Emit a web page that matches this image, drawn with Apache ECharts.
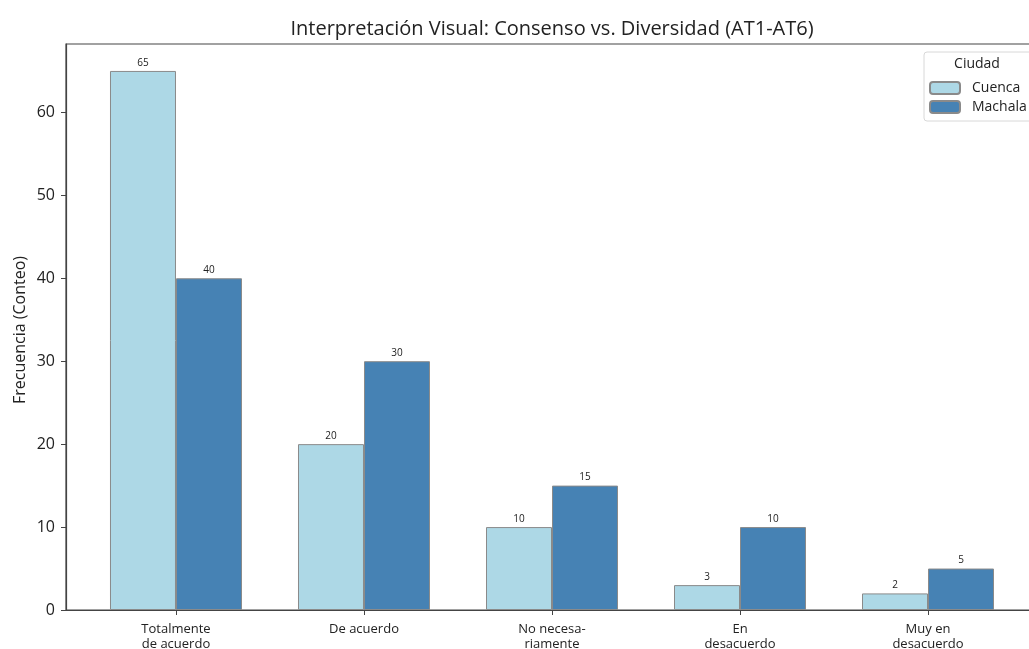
<!DOCTYPE html>
<html>
<head>
<meta charset="utf-8">
<script src="https://cdn.jsdelivr.net/npm/echarts@6/dist/echarts.min.js"></script>
<style>
html,body{margin:0;padding:0;background:#fff;}
#chart{width:1029px;height:649px;}
</style>
</head>
<body>
<div id="chart"></div>
<script>
const categories = ["Totalmente\nde acuerdo", "De acuerdo", "No necesa-\nriamente", "En\ndesacuerdo", "Muy en\ndesacuerdo"];
const cuenca = [65, 20, 10, 3, 2];
const machala = [40, 30, 15, 10, 5];
const yTicks = [0, 10, 20, 30, 40, 50, 60];
const catPositions = [0, 1, 2, 3, 4];

const FONT = "Open Sans";
const chart = echarts.init(document.getElementById('chart'), null, {renderer: 'canvas'});

function toPairs(arr) { return arr.map((v, i) => [catPositions[i], v]); }

const option = {
  backgroundColor: '#ffffff',
  animation: false,
  textStyle: {fontFamily: FONT},
  title: {
    text: 'Interpretación Visual: Consenso vs. Diversidad (AT1-AT6)',
    left: 547, top: 14, textAlign: 'center',
    textStyle: {fontFamily: FONT, fontSize: 20, fontWeight: 'normal', color: '#222'}
  },
  grid: {
    left: 66, top: 44, right: -9, bottom: 39,
    outerBoundsMode: 'none', containLabel: false,
    show: true, borderColor: '#444', borderWidth: 1.2, backgroundColor: 'transparent'
  },
  legend: {
    data: ['Cuenca', 'Machala'],
    orient: 'vertical',
    left: 924, top: 52,
    padding: [29, 8, 7, 5],
    itemWidth: 30, itemHeight: 12, itemGap: 5,
    backgroundColor: '#fff',
    borderColor: '#d8d8d8', borderWidth: 1, borderRadius: 3,
    textStyle: {fontFamily: FONT, fontSize: 14, color: '#222', padding: [0, 0, 0, 7]}
  },
  graphic: [{
    type: 'text', x: 977, y: 64, z: 100,
    style: {text: 'Ciudad', font: '14px "' + FONT + '"', fill: '#222', textAlign: 'center', textVerticalAlign: 'middle'}
  }, {
    type: 'text', x: 20, y: 330, rotation: Math.PI / 2, z: 100,
    style: {text: 'Frecuencia (Conteo)', font: '16px "' + FONT + '"', fill: '#222', textAlign: 'center', textVerticalAlign: 'middle'}
  }],
  xAxis: {
    type: 'value', min: -0.585, max: 4.585,
    splitLine: {show: false},
    axisLine: {show: true, onZero: false, lineStyle: {color: '#444', width: 1.2}},
    axisTick: {show: true, length: 5, customValues: catPositions, lineStyle: {color: '#444'}},
    axisLabel: {
      customValues: catPositions, margin: 12,
      formatter: v => categories[Math.round(v)],
      fontFamily: FONT, fontSize: 13, color: '#222', lineHeight: 15
    }
  },
  yAxis: {
    type: 'value', min: 0, max: 68.25,
    splitLine: {show: false},
    axisLine: {show: true, onZero: false, lineStyle: {color: '#444', width: 1.2}},
    axisTick: {show: true, length: 5, customValues: yTicks, lineStyle: {color: '#444'}},
    axisLabel: {customValues: yTicks, margin: 11, fontFamily: FONT, fontSize: 16, color: '#222'}
  },
  series: [{
    name: 'Cuenca', type: 'bar', data: toPairs(cuenca),
    barWidth: 66, barGap: '0%',
    itemStyle: {color: '#ADD8E6', borderColor: '#8a8a8a', borderWidth: 1},
    label: {show: true, position: 'top', distance: 3, fontFamily: FONT, fontSize: 10, color: '#222', formatter: p => p.value[1]}
  }, {
    name: 'Machala', type: 'bar', data: toPairs(machala),
    barWidth: 66, barGap: '0%',
    itemStyle: {color: '#4682B4', borderColor: '#8a8a8a', borderWidth: 1},
    label: {show: true, position: 'top', distance: 3, fontFamily: FONT, fontSize: 10, color: '#222', formatter: p => p.value[1]}
  }]
};
chart.setOption(option);
</script>
</body>
</html>
